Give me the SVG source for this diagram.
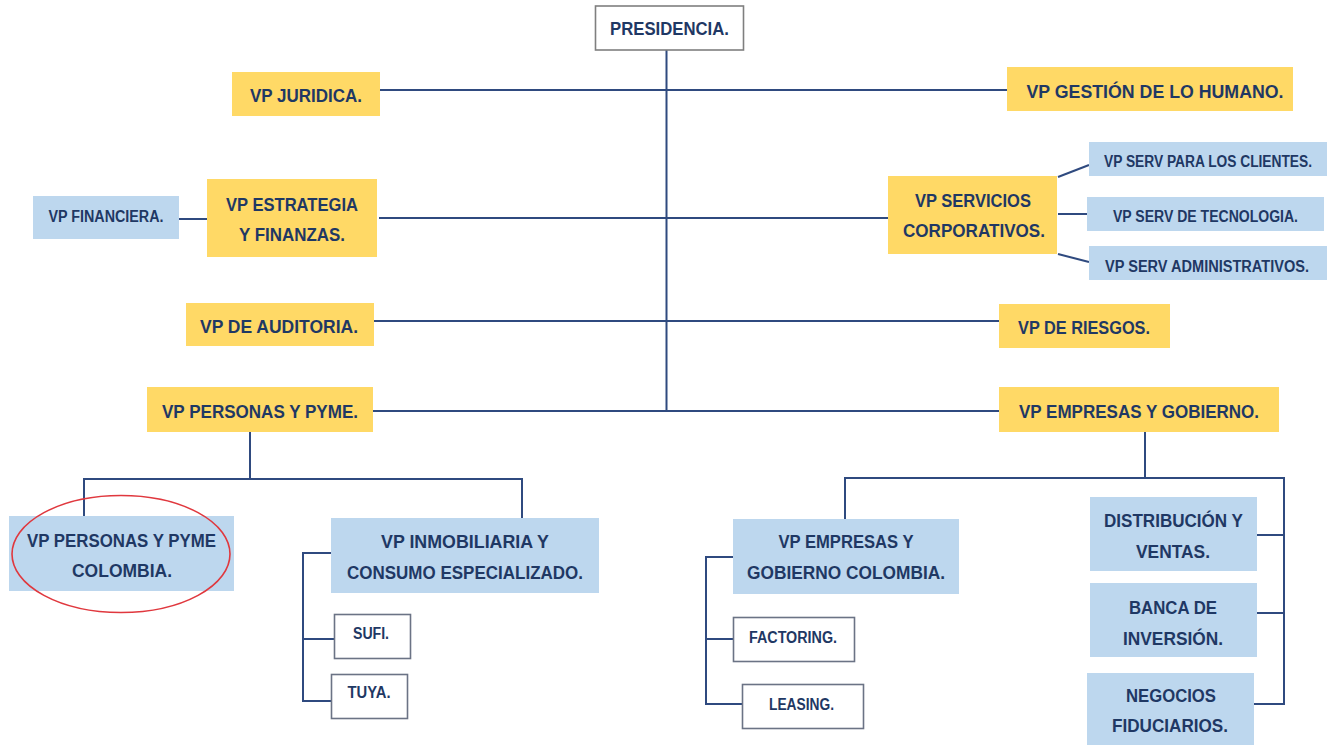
<svg xmlns="http://www.w3.org/2000/svg" width="1337" height="745" viewBox="0 0 1337 745">
<style>
.y{fill:#FFD966}
.b{fill:#BDD7EE}
.w{fill:#FFFFFF;stroke:#6B7385;stroke-width:1.6}
text{font-family:"Liberation Sans",Arial,sans-serif;font-weight:bold;fill:#1F3864;text-anchor:middle;font-size:18.5px}
text.s{font-size:16px}
.c line,.c polyline{stroke:#2F4A7F;stroke-width:2;fill:none}
</style>
<rect width="1337" height="745" fill="#FFFFFF"/>
<g class="c" id="connectors">
<line x1="666.5" y1="50" x2="666.5" y2="411"/>
<line x1="380" y1="90" x2="1007" y2="90"/>
<line x1="179" y1="219" x2="207" y2="219"/>
<line x1="379" y1="218" x2="888" y2="218"/>
<line x1="1058" y1="177" x2="1089" y2="165"/>
<line x1="1058" y1="214" x2="1087" y2="214"/>
<line x1="1058" y1="254" x2="1089" y2="262"/>
<line x1="374" y1="321" x2="999" y2="321"/>
<line x1="373" y1="411" x2="999" y2="411"/>
<line x1="250" y1="432" x2="250" y2="479"/>
<polyline points="84,516 84,479 522,479 522,518"/>
<polyline points="331,553 303,553 303,701 332,701"/>
<line x1="303" y1="639" x2="335" y2="639"/>
<line x1="1145" y1="432" x2="1145" y2="478"/>
<polyline points="845,519 845,478 1284,478 1284,704 1254,704"/>
<line x1="1257" y1="535" x2="1284" y2="535"/>
<line x1="1257" y1="613" x2="1284" y2="613"/>
<polyline points="733,557 706,557 706,704 742,704"/>
<line x1="706" y1="639" x2="733" y2="639"/>
</g>
<g id="presidencia"><rect class="w" x="595.5" y="6" width="148" height="44" style="stroke:#7F7F7F"/><text x="669.5" y="35" textLength="119" lengthAdjust="spacingAndGlyphs">PRESIDENCIA.</text></g>
<g id="vp-juridica"><rect class="y" x="232" y="72" width="148" height="44"/><text x="306" y="102" textLength="112" lengthAdjust="spacingAndGlyphs">VP JURIDICA.</text></g>
<g id="vp-gestion"><rect class="y" x="1007" y="67" width="286" height="44"/><text x="1155" y="98" textLength="257" lengthAdjust="spacingAndGlyphs">VP GESTIÓN DE LO HUMANO.</text></g>
<g id="vp-financiera"><rect class="b" x="33" y="196" width="146" height="43"/><text class="s" x="106" y="222" textLength="115" lengthAdjust="spacingAndGlyphs">VP FINANCIERA.</text></g>
<g id="vp-estrategia"><rect class="y" x="207" y="179" width="170" height="78"/><text x="292" y="211" textLength="132" lengthAdjust="spacingAndGlyphs">VP ESTRATEGIA</text><text x="292" y="241" textLength="106" lengthAdjust="spacingAndGlyphs">Y FINANZAS.</text></g>
<g id="vp-servicios"><rect class="y" x="888" y="176" width="169" height="78"/><text x="973" y="207" textLength="116" lengthAdjust="spacingAndGlyphs">VP SERVICIOS</text><text x="974" y="237" textLength="142" lengthAdjust="spacingAndGlyphs">CORPORATIVOS.</text></g>
<g id="vp-serv-clientes"><rect class="b" x="1089" y="142" width="238" height="34"/><text class="s" x="1208" y="167" textLength="208" lengthAdjust="spacingAndGlyphs">VP SERV PARA LOS CLIENTES.</text></g>
<g id="vp-serv-tecnologia"><rect class="b" x="1087" y="197" width="237" height="34"/><text class="s" x="1205.5" y="222" textLength="185" lengthAdjust="spacingAndGlyphs">VP SERV DE TECNOLOGIA.</text></g>
<g id="vp-serv-administrativos"><rect class="b" x="1089" y="246" width="238" height="34"/><text class="s" x="1207" y="272" textLength="204" lengthAdjust="spacingAndGlyphs">VP SERV ADMINISTRATIVOS.</text></g>
<g id="vp-auditoria"><rect class="y" x="186" y="303" width="188" height="43"/><text x="279" y="333" textLength="158" lengthAdjust="spacingAndGlyphs">VP DE AUDITORIA.</text></g>
<g id="vp-riesgos"><rect class="y" x="999" y="304" width="171" height="44"/><text x="1084" y="334" textLength="132" lengthAdjust="spacingAndGlyphs">VP DE RIESGOS.</text></g>
<g id="vp-personas-pyme"><rect class="y" x="147" y="387" width="226" height="45"/><text x="260" y="418" textLength="196" lengthAdjust="spacingAndGlyphs">VP PERSONAS Y PYME.</text></g>
<g id="vp-empresas-gobierno"><rect class="y" x="999" y="387" width="280" height="45"/><text x="1139" y="418" textLength="240" lengthAdjust="spacingAndGlyphs">VP EMPRESAS Y GOBIERNO.</text></g>
<g id="vp-personas-pyme-colombia"><rect class="b" x="9" y="516" width="225" height="75"/><text x="121.5" y="547" textLength="189" lengthAdjust="spacingAndGlyphs">VP PERSONAS Y PYME</text><text x="122" y="577" textLength="100" lengthAdjust="spacingAndGlyphs">COLOMBIA.</text><ellipse cx="121" cy="554" rx="109" ry="58.5" fill="none" stroke="#E0383E" stroke-width="1.6"/></g>
<g id="vp-inmobiliaria"><rect class="b" x="331" y="518" width="268" height="75"/><text x="465" y="548" textLength="168" lengthAdjust="spacingAndGlyphs">VP INMOBILIARIA Y</text><text x="465" y="579" textLength="236" lengthAdjust="spacingAndGlyphs">CONSUMO ESPECIALIZADO.</text></g>
<g id="sufi"><rect class="w" x="334.5" y="614.5" width="76" height="44"/><text class="s" x="371" y="639" textLength="36" lengthAdjust="spacingAndGlyphs">SUFI.</text></g>
<g id="tuya"><rect class="w" x="331.5" y="674.5" width="76" height="44"/><text class="s" x="369" y="698" textLength="43" lengthAdjust="spacingAndGlyphs">TUYA.</text></g>
<g id="vp-empresas-gobierno-colombia"><rect class="b" x="733" y="519" width="226" height="75"/><text x="846" y="548" textLength="135" lengthAdjust="spacingAndGlyphs">VP EMPRESAS Y</text><text x="846" y="579" textLength="198" lengthAdjust="spacingAndGlyphs">GOBIERNO COLOMBIA.</text></g>
<g id="factoring"><rect class="w" x="733.5" y="617.5" width="121" height="44"/><text class="s" x="793" y="643" textLength="88" lengthAdjust="spacingAndGlyphs">FACTORING.</text></g>
<g id="leasing"><rect class="w" x="742.5" y="684.5" width="121" height="44"/><text class="s" x="801.5" y="710" textLength="65" lengthAdjust="spacingAndGlyphs">LEASING.</text></g>
<g id="distribucion"><rect class="b" x="1090" y="497" width="167" height="74"/><text x="1173.5" y="527" textLength="139" lengthAdjust="spacingAndGlyphs">DISTRIBUCIÓN Y</text><text x="1173" y="558" textLength="74" lengthAdjust="spacingAndGlyphs">VENTAS.</text></g>
<g id="banca-inversion"><rect class="b" x="1090" y="583" width="167" height="74"/><text x="1173" y="614" textLength="88" lengthAdjust="spacingAndGlyphs">BANCA DE</text><text x="1173" y="645" textLength="100" lengthAdjust="spacingAndGlyphs">INVERSIÓN.</text></g>
<g id="negocios-fiduciarios"><rect class="b" x="1087" y="673" width="167" height="72"/><text x="1171" y="702" textLength="90" lengthAdjust="spacingAndGlyphs">NEGOCIOS</text><text x="1170" y="732" textLength="116" lengthAdjust="spacingAndGlyphs">FIDUCIARIOS.</text></g>
</svg>
